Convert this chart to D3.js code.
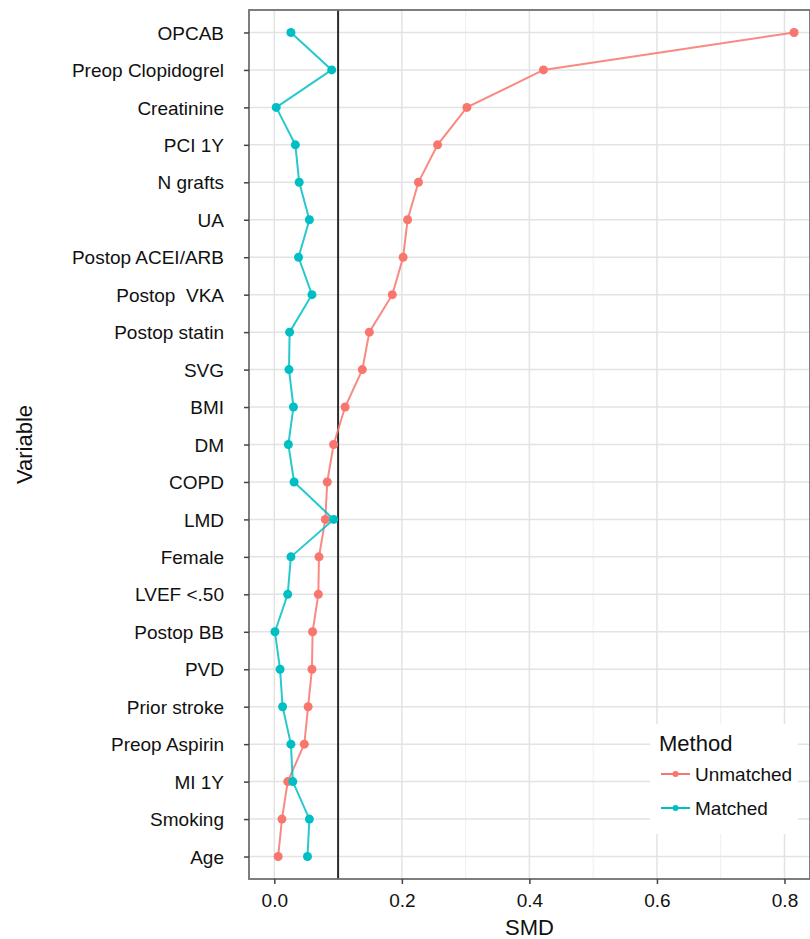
<!DOCTYPE html>
<html>
<head>
<meta charset="utf-8">
<script src="https://cdn.jsdelivr.net/npm/d3@7"></script>
<style>
  body { margin: 0; background: #fff; }
  svg text { font-family: "Liberation Sans", Arial, Helvetica, sans-serif; fill: #111; white-space: pre; }
</style>
</head>
<body>
<svg id="chart" width="810" height="939"></svg>
<script>
// --- data (top row first) ---
const variables = ["OPCAB", "Preop Clopidogrel", "Creatinine", "PCI 1Y", "N grafts", "UA",
  "Postop ACEI/ARB", "Postop  VKA", "Postop statin", "SVG", "BMI", "DM", "COPD", "LMD",
  "Female", "LVEF <.50", "Postop BB", "PVD", "Prior stroke", "Preop Aspirin", "MI 1Y",
  "Smoking", "Age"];
const unmatched = [0.815, 0.422, 0.302, 0.256, 0.226, 0.209, 0.202, 0.185, 0.149, 0.138,
  0.111, 0.093, 0.083, 0.080, 0.070, 0.069, 0.060, 0.059, 0.053, 0.047, 0.021, 0.012, 0.006];
const matched = [0.026, 0.090, 0.003, 0.033, 0.039, 0.055, 0.038, 0.059, 0.024, 0.023,
  0.030, 0.022, 0.031, 0.093, 0.026, 0.021, 0.001, 0.009, 0.013, 0.026, 0.029, 0.055, 0.052];
const methods = ["Unmatched", "Matched"];
const methodColors = ["#F8766D", "#00BFC4"];
const xTicks = [0, 0.2, 0.4, 0.6, 0.8];
const xMinor = [0.1, 0.3, 0.5, 0.7];
const threshold = 0.1;

const svg = d3.select("#chart");
const panel = { left: 249, right: 810, top: 10, bottom: 879 };

const x = d3.scaleLinear().domain([-0.0397, 0.840]).range([panel.left, panel.right]);
const y = d3.scalePoint().domain(variables).range([panel.top, panel.bottom]).padding(0.6);
const color = d3.scaleOrdinal().domain(methods).range(methodColors);

const series = [
  { name: "Unmatched", values: unmatched },
  { name: "Matched", values: matched }
];

// panel background + grid
const g = svg.append("g");
g.append("rect").attr("x", panel.left).attr("y", panel.top)
  .attr("width", panel.right - panel.left).attr("height", panel.bottom - panel.top)
  .attr("fill", "#fff");

g.selectAll(".minor").data(xMinor).join("line").attr("class", "minor")
  .attr("x1", d => x(d)).attr("x2", d => x(d))
  .attr("y1", panel.top).attr("y2", panel.bottom)
  .attr("stroke", "#efefef").attr("stroke-width", 1);

g.selectAll(".majorx").data(xTicks).join("line").attr("class", "majorx")
  .attr("x1", d => x(d)).attr("x2", d => x(d))
  .attr("y1", panel.top).attr("y2", panel.bottom)
  .attr("stroke", "#e3e3e3").attr("stroke-width", 1.5);

g.selectAll(".majory").data(variables).join("line").attr("class", "majory")
  .attr("x1", panel.left).attr("x2", panel.right)
  .attr("y1", d => y(d)).attr("y2", d => y(d))
  .attr("stroke", "#e3e3e3").attr("stroke-width", 1.5);

// threshold line
g.append("line")
  .attr("x1", x(threshold)).attr("x2", x(threshold))
  .attr("y1", panel.top).attr("y2", panel.bottom)
  .attr("stroke", "#2b2b2b").attr("stroke-width", 2);

// paths and points
const line = d3.line().x(d => x(d.v)).y(d => y(d.k));
series.forEach(s => {
  const pts = s.values.map((v, i) => ({ k: variables[i], v }));
  g.append("path").datum(pts)
    .attr("d", line).attr("fill", "none")
    .attr("stroke", color(s.name)).attr("stroke-width", 2).attr("stroke-opacity", 0.85);
  g.selectAll(".pt-" + s.name).data(pts).join("circle").attr("class", "pt-" + s.name)
    .attr("cx", d => x(d.v)).attr("cy", d => y(d.k)).attr("r", 4.5)
    .attr("fill", color(s.name));
});

// panel border
g.append("rect").attr("x", panel.left).attr("y", panel.top)
  .attr("width", panel.right - panel.left).attr("height", panel.bottom - panel.top)
  .attr("fill", "none").attr("stroke", "#707070").attr("stroke-width", 1.8);

// axes
const xAxis = svg.append("g").attr("transform", `translate(0,${panel.bottom})`)
  .call(d3.axisBottom(x).tickValues(xTicks).tickFormat(d3.format(".1f")).tickSize(5).tickPadding(6));
const yAxis = svg.append("g").attr("transform", `translate(${panel.left},0)`)
  .call(d3.axisLeft(y).tickSize(5).tickPadding(16));
[xAxis, yAxis].forEach(a => {
  a.select(".domain").remove();
  a.selectAll(".tick line").attr("stroke", "#444").attr("stroke-width", 1.5);
  a.selectAll(".tick text").attr("font-size", 19).attr("fill", "#111");
});
yAxis.selectAll(".tick text").attr("dy", "0.35em").attr("x", -25);
xAxis.selectAll(".tick text").attr("dy", "0.9em");

// axis titles
svg.append("text").attr("x", (panel.left + panel.right) / 2).attr("y", 935)
  .attr("text-anchor", "middle").attr("font-size", 22).text("SMD");
svg.append("text").attr("transform", `translate(32,${(panel.top + panel.bottom) / 2}) rotate(-90)`)
  .attr("text-anchor", "middle").attr("font-size", 22).text("Variable");

// legend
const lg = svg.append("g").attr("transform", "translate(650,724)");
lg.append("rect").attr("width", 148).attr("height", 110).attr("fill", "#fff");
lg.append("text").attr("x", 9).attr("y", 27).attr("font-size", 22).text("Method");
const items = lg.selectAll(".item").data(methods).join("g").attr("class", "item")
  .attr("transform", (d, i) => `translate(0,${50 + i * 34})`);
items.append("line").attr("x1", 11).attr("x2", 40)
  .attr("stroke", d => color(d)).attr("stroke-width", 2);
items.append("circle").attr("cx", 25.5).attr("r", 3).attr("fill", d => color(d));
items.append("text").attr("x", 45).attr("dy", "0.35em").attr("font-size", 19).text(d => d);
</script>
</body>
</html>
